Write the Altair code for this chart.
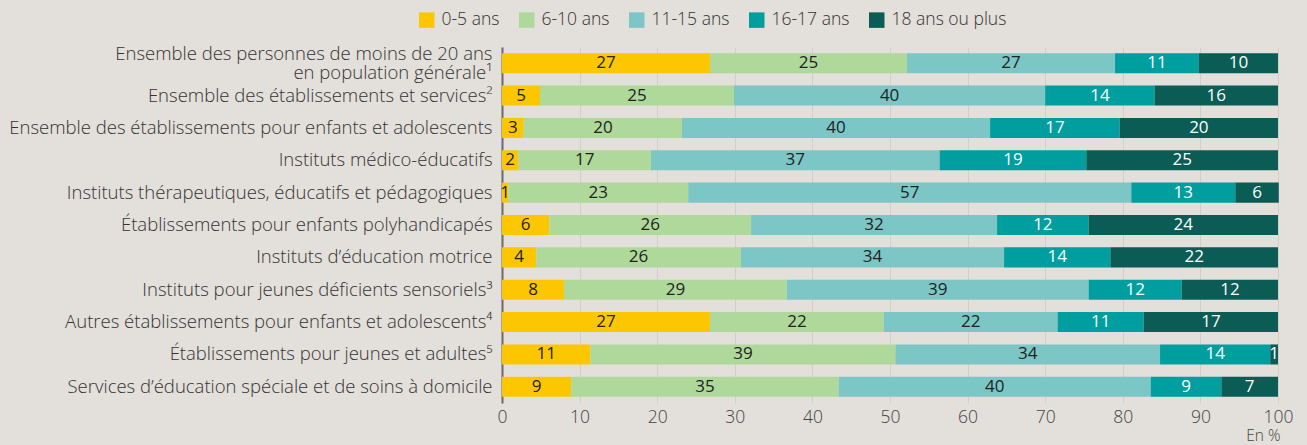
import altair as alt
import pandas as pd

categories = [
    "Ensemble des personnes de moins de 20 ans|en population générale¹",
    "Ensemble des établissements et services²",
    "Ensemble des établissements pour enfants et adolescents",
    "Instituts médico-éducatifs",
    "Instituts thérapeutiques, éducatifs et pédagogiques",
    "Établissements pour enfants polyhandicapés",
    "Instituts d’éducation motrice",
    "Instituts pour jeunes déficients sensoriels³",
    "Autres établissements pour enfants et adolescents⁴",
    "Établissements pour jeunes et adultes⁵",
    "Services d’éducation spéciale et de soins à domicile",
]
age_groups = ["0-5 ans", "6-10 ans", "11-15 ans", "16-17 ans", "18 ans ou plus"]
colors = ["#fcc700", "#afd99a", "#7cc6c6", "#009e9f", "#0a5c55"]

v_0_5 = [26.8, 4.9, 2.8, 2.1, 0.8, 6.1, 4.4, 8.0, 26.8, 11.4, 8.9]
v_6_10 = [25.4, 25.0, 20.4, 17.1, 23.2, 26.0, 26.4, 28.7, 22.4, 39.3, 34.5]
v_11_15 = [26.8, 40.1, 39.7, 37.2, 57.1, 31.7, 33.9, 38.9, 22.4, 34.1, 40.2]
v_16_17 = [10.8, 14.1, 16.7, 18.9, 13.4, 11.8, 13.7, 12.0, 11.1, 14.2, 9.1]
v_18p = [10.2, 15.9, 20.4, 24.7, 5.6, 24.4, 21.6, 12.4, 17.3, 1.0, 7.3]

series = [v_0_5, v_6_10, v_11_15, v_16_17, v_18p]
rows = []
for gi, (g, vals) in enumerate(zip(age_groups, series)):
    for c, v in zip(categories, vals):
        rows.append({"cat": c, "age": g, "order": gi, "value": v})
df = pd.DataFrame(rows)

FONT = "Open Sans"

base = alt.Chart(df).transform_stack(
    stack="value", groupby=["cat"], as_=["x0", "x1"],
    sort=[alt.SortField("order", order="ascending")],
).transform_calculate(mid="(datum.x0 + datum.x1) / 2")

y_enc = alt.Y(
    "cat:N", sort=categories, title=None,
    scale=alt.Scale(paddingInner=0.38, paddingOuter=0.19),
    axis=alt.Axis(
        labelExpr="split(datum.label, '|')",
        labelFontSize=18.5, labelColor="#333333", labelFont=FONT,
        labelFontWeight=300,
        labelLineHeight=19,
        labelOffset={"condition": {"test": "indexof(datum.value, '|') >= 0", "value": -9}, "value": 0},
        labelPadding=10, ticks=False,
        domain=True, domainColor="#6b6b6b", domainWidth=2, grid=False,
        labelLimit=700,
    ),
)

bars = base.mark_bar().encode(
    x=alt.X(
        "x0:Q", title="En %",
        scale=alt.Scale(domain=[0, 100], nice=False),
        axis=alt.Axis(
            values=list(range(0, 101, 10)), grid=True, gridColor="#d3cec8",
            domain=False, ticks=False, labelFontSize=17.5, labelColor="#444",
            labelFont=FONT, labelFontWeight=300, labelPadding=5, labelFlush=False,
            titleFont=FONT, titleFontSize=15.5, titleFontWeight=300,
            titleColor="#444", titleAnchor="end", titleAlign="right",
            titleX=778, titleY=32, titleBaseline="middle",
        ),
    ),
    x2="x1:Q",
    y=y_enc,
    color=alt.Color(
        "age:N", sort=age_groups,
        scale=alt.Scale(domain=age_groups, range=colors),
        legend=alt.Legend(
            title=None, orient="none", direction="horizontal",
            legendX=-84, legendY=-36, symbolType="square", symbolSize=240,
            symbolStrokeWidth=0, labelFontSize=17.5, labelColor="#333333",
            labelFont=FONT, labelFontWeight=300, columnPadding=18, labelOffset=6,
        ),
    ),
)

labels = base.mark_text(fontSize=17, fontWeight=400, font=FONT, baseline="middle").encode(
    x="mid:Q",
    y=alt.Y("cat:N", sort=categories),
    text=alt.Text("value:Q", format=".0f"),
    color=alt.condition(
        "datum.order >= 3", alt.value("#ffffff"), alt.value("#222222")
    ),
)

chart = (
    alt.layer(bars, labels)
    .properties(
        width=776, height=356, autosize="none",
        padding={"left": 502, "top": 47, "right": 29, "bottom": 42},
        background="#e3dfda",
    )
    .configure_view(stroke=None)
)

chart.save("out.html", embed_options={"renderer": "svg", "actions": False})
